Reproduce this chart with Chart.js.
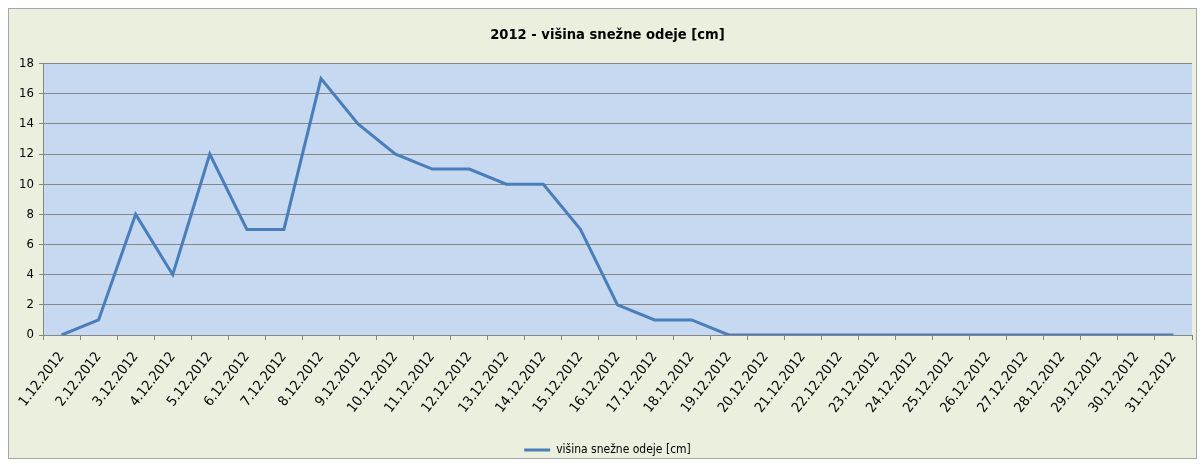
<!DOCTYPE html>
<html>
<head>
<meta charset="utf-8">
<script src="https://cdn.jsdelivr.net/npm/chart.js@4.4.0/dist/chart.umd.min.js"></script>
<style>
html,body{margin:0;padding:0;background:#ffffff;}
#wrap{width:1204px;height:466px;position:relative;}
</style>
</head>
<body>
<div id="wrap"><canvas id="c" width="1204" height="466"></canvas></div>
<script>
const titleText = '2012 - višina snežne odeje [cm]';
const seriesName = 'višina snežne odeje [cm]';
const categories = ['1.12.2012','2.12.2012','3.12.2012','4.12.2012','5.12.2012','6.12.2012','7.12.2012','8.12.2012','9.12.2012','10.12.2012','11.12.2012','12.12.2012','13.12.2012','14.12.2012','15.12.2012','16.12.2012','17.12.2012','18.12.2012','19.12.2012','20.12.2012','21.12.2012','22.12.2012','23.12.2012','24.12.2012','25.12.2012','26.12.2012','27.12.2012','28.12.2012','29.12.2012','30.12.2012','31.12.2012'];
const snowDepth = [0,1,8,4,12,7,7,17,14,12,11,11,10,10,7,2,1,1,0,0,0,0,0,0,0,0,0,0,0,0,0];
const yTicks = [0,2,4,6,8,10,12,14,16,18];

const FONT = '"DejaVu Sans Condensed", "Liberation Sans Narrow", sans-serif';

const bgPlugin = {
  id: 'bg',
  afterLayout(chart) {
    // centre title and legend on the plot area like the original
    if (chart.titleBlock) chart.titleBlock.left += 15;
    if (chart.legend) chart.legend.left += 15;
  },
  beforeDraw(chart) {
    const ctx = chart.ctx;
    ctx.save();
    ctx.fillStyle = '#ffffff';
    ctx.fillRect(0, 0, chart.width, chart.height);
    ctx.fillStyle = '#EBEFDE';
    ctx.fillRect(8, 8, 1188, 450);
    ctx.strokeStyle = '#a6a6a6';
    ctx.lineWidth = 1;
    ctx.strokeRect(8.5, 8.5, 1188, 450);
    const a = chart.chartArea;
    ctx.fillStyle = '#C6D9F1';
    ctx.fillRect(a.left, a.top, a.right - a.left, a.bottom - a.top);
    ctx.restore();
  }
};

new Chart(document.getElementById('c'), {
  type: 'line',
  data: {
    labels: categories,
    datasets: [{
      label: seriesName,
      data: snowDepth,
      borderColor: '#4A7EBB',
      backgroundColor: '#4A7EBB',
      borderWidth: 3,
      pointRadius: 0,
      tension: 0,
      fill: false
    }]
  },
  options: {
    responsive: false,
    animation: false,
    devicePixelRatio: 1,
    layout: { padding: { left: 8, right: 12, top: 9, bottom: 0 } },
    plugins: {
      title: {
        display: true,
        text: titleText,
        color: '#000000',
        font: { family: FONT, size: 14.6, weight: 'bold', lineHeight: 1.2 },
        padding: { top: 17, bottom: 20 }
      },
      legend: {
        position: 'bottom',
        labels: {
          usePointStyle: true,
          pointStyle: 'line',
          pointStyleWidth: 26,
          color: '#000000',
          font: { family: FONT, size: 12 },
          padding: 6
        }
      },
      tooltip: { enabled: false }
    },
    scales: {
      x: {
        type: 'category',
        offset: true,
        afterFit(scale) { scale.height = 103; },
        grid: {
          display: true,
          offset: true,
          drawOnChartArea: false,
          drawTicks: true,
          tickLength: 5,
          color: '#868686'
        },
        border: { display: true, color: '#868686', width: 1 },
        ticks: {
          autoSkip: false,
          maxRotation: 52,
          minRotation: 52,
          color: '#000000',
          font: { family: FONT, size: 14 },
          padding: 9
        }
      },
      y: {
        min: 0,
        max: 18,
        afterBuildTicks(scale) { scale.ticks = yTicks.map(v => ({ value: v })); },
        afterFit(scale) { scale.width = 35; },
        grid: {
          color: '#868686',
          tickLength: 4,
          drawTicks: true
        },
        border: { display: true, color: '#868686', width: 1 },
        ticks: {
          color: '#000000',
          font: { family: FONT, size: 13 },
          padding: 5
        }
      }
    }
  },
  plugins: [bgPlugin]
});
</script>
</body>
</html>
